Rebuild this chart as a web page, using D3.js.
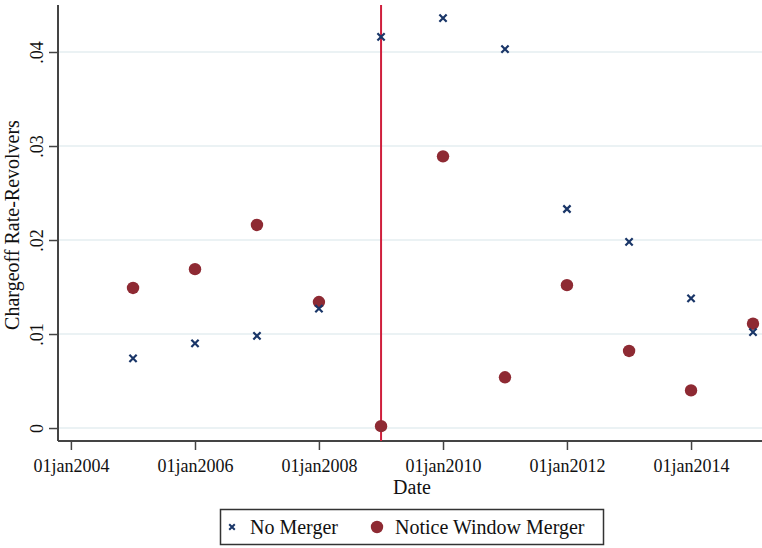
<!DOCTYPE html>
<html>
<head>
<meta charset="utf-8">
<script src="https://cdn.jsdelivr.net/npm/d3@7"></script>
<style>
  html, body { margin: 0; padding: 0; background: #fff; }
  svg { display: block; }
  text { font-family: "Liberation Serif", "DejaVu Serif", serif; fill: #111; }
</style>
</head>
<body>
<svg id="chart" width="762" height="548"></svg>
<script>
// Observation years (1 January of each year)
const years = [2005, 2006, 2007, 2008, 2009, 2010, 2011, 2012, 2013, 2014, 2015];
// Charge-off rate on revolving credit, banks without a merger
const noMerger = [0.0074, 0.0090, 0.0098, 0.0127, 0.0416, 0.0436, 0.0403, 0.0233, 0.0198, 0.0138, 0.0102];
// Charge-off rate, banks merging inside the notice window
const noticeWindowMerger = [0.0149, 0.0169, 0.0216, 0.0134, 0.0002, 0.0289, 0.0054, 0.0152, 0.0082, 0.0040, 0.0111];
// Axis ticks
const xTickYears = [2004, 2006, 2008, 2010, 2012, 2014];
const yTicks = [0, 0.01, 0.02, 0.03, 0.04];
// Reference event date
const eventYear = 2009;
const seriesNames = ["No Merger", "Notice Window Merger"];

const colNavy = "#1a3668";
const colMaroon = "#8e2a33";
const colEvent = "#cf1f3c";
const colGrid = "#e4eef1";
const colAxis = "#444";

const svg = d3.select("#chart");
const plotLeft = 58, plotRight = 762, plotTop = 5, plotBottom = 441;

const jan1 = yr => new Date(Date.UTC(yr, 0, 1));

const x = d3.scaleUtc()
  .domain([new Date(Date.UTC(2003, 9, 17)), new Date(Date.UTC(2015, 1, 23))])
  .range([plotLeft, plotRight]);

const y = d3.scaleLinear()
  .domain([-0.00138, 0.045])
  .range([plotBottom, plotTop]);

// horizontal grid
svg.append("g")
  .selectAll("line")
  .data(yTicks)
  .join("line")
  .attr("x1", plotLeft).attr("x2", plotRight)
  .attr("y1", d => y(d)).attr("y2", d => y(d))
  .attr("stroke", colGrid).attr("stroke-width", 1.5);

// y axis
const yFmt = d => d === 0 ? "0" : d3.format(".2f")(d).replace(/^0/, "");
const yAxis = svg.append("g")
  .attr("transform", `translate(${plotLeft},0)`)
  .call(d3.axisLeft(y).tickValues(yTicks).tickFormat(yFmt).tickSize(9).tickPadding(5));
yAxis.select(".domain").attr("stroke", colAxis).attr("stroke-width", 2)
  .attr("d", `M0,${plotTop}V${plotBottom}`);
yAxis.selectAll(".tick line").attr("stroke", colAxis).attr("stroke-width", 1.5);
yAxis.selectAll(".tick text")
  .attr("font-size", 18)
  .attr("font-family", "Liberation Serif, serif")
  .attr("fill", "#111")
  .attr("x", null).attr("dy", null)
  .attr("text-anchor", "middle")
  .attr("transform", "translate(-15,0) rotate(-90)");

// x axis
const xFmt = d => d3.utcFormat("%d%b%Y")(d).toLowerCase();
const xAxis = svg.append("g")
  .attr("transform", `translate(0,${plotBottom})`)
  .call(d3.axisBottom(x).tickValues(xTickYears.map(jan1)).tickFormat(xFmt).tickSize(9).tickPadding(8));
xAxis.select(".domain").attr("stroke", colAxis).attr("stroke-width", 2)
  .attr("d", `M${plotLeft},0H${plotRight}`);
xAxis.selectAll(".tick line").attr("stroke", colAxis).attr("stroke-width", 1.5);
xAxis.selectAll(".tick text")
  .attr("font-size", 18)
  .attr("font-family", "Liberation Serif, serif")
  .attr("fill", "#111")
  .attr("dy", null)
  .attr("y", 31);

// axis titles
svg.append("text")
  .attr("x", (plotLeft + plotRight) / 2 + 2).attr("y", 494)
  .attr("text-anchor", "middle").attr("font-size", 20)
  .text("Date");
svg.append("text")
  .attr("transform", `translate(19,${(plotTop + plotBottom) / 2 + 2}) rotate(-90)`)
  .attr("text-anchor", "middle").attr("font-size", 20)
  .text("Chargeoff Rate-Revolvers");

// event line
svg.append("line")
  .attr("x1", x(jan1(eventYear))).attr("x2", x(jan1(eventYear)))
  .attr("y1", plotTop).attr("y2", plotBottom)
  .attr("stroke", colEvent).attr("stroke-width", 2);

// notice-window merger circles
svg.append("g")
  .selectAll("circle")
  .data(years.map((yr, i) => ({ date: jan1(yr), v: noticeWindowMerger[i] })))
  .join("circle")
  .attr("cx", d => x(d.date)).attr("cy", d => y(d.v))
  .attr("r", 6.2)
  .attr("fill", colMaroon);

// no-merger crosses
const cross = d3.symbol().type(d3.symbolX).size(36);
svg.append("g")
  .selectAll("path")
  .data(years.map((yr, i) => ({ date: jan1(yr), v: noMerger[i] })))
  .join("path")
  .attr("transform", d => `translate(${x(d.date)},${y(d.v)})`)
  .attr("d", cross)
  .attr("fill", "none")
  .attr("stroke", colNavy).attr("stroke-width", 2.2);

// legend
const lg = svg.append("g");
lg.append("rect")
  .attr("x", 220.5).attr("y", 509.5).attr("width", 383).attr("height", 35)
  .attr("fill", "#fff").attr("stroke", "#333").attr("stroke-width", 1.5);
lg.append("path")
  .attr("transform", "translate(232,527)")
  .attr("d", d3.symbol().type(d3.symbolX).size(22))
  .attr("fill", "none").attr("stroke", colNavy).attr("stroke-width", 2);
lg.append("text").attr("x", 250).attr("y", 534).attr("font-size", 20).text(seriesNames[0]);
lg.append("circle").attr("cx", 377).attr("cy", 527).attr("r", 6.2).attr("fill", colMaroon);
lg.append("text").attr("x", 395).attr("y", 534).attr("font-size", 20).text(seriesNames[1]);
</script>
</body>
</html>
